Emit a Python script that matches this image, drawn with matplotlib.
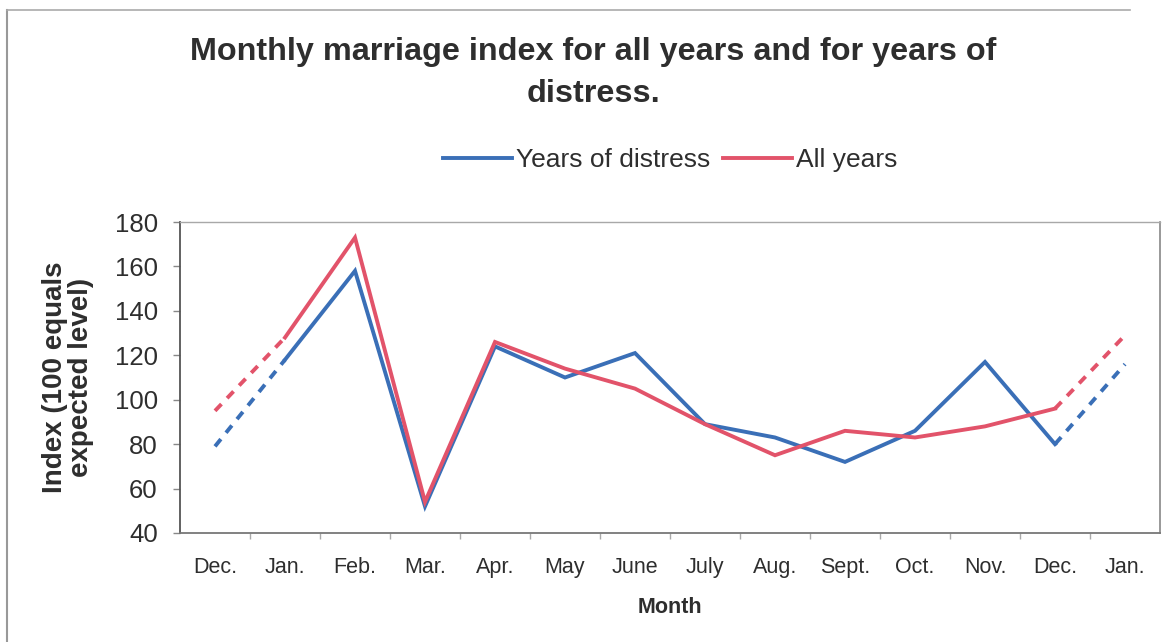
import matplotlib
matplotlib.use("Agg")
import matplotlib.pyplot as plt
from matplotlib.lines import Line2D
from matplotlib.ticker import FixedLocator, MultipleLocator

# Monthly marriage index (100 = expected level); first and last points wrap around the year
months = ["Dec.", "Jan.", "Feb.", "Mar.", "Apr.", "May", "June", "July",
          "Aug.", "Sept.", "Oct.", "Nov.", "Dec.", "Jan."]
distress = [79, 118, 158, 52, 124, 110, 121, 89, 83, 72, 86, 117, 80, 116]
all_years = [95, 128, 173, 54, 126, 114, 105, 89, 75, 86, 83, 88, 96, 129]

BLUE = "#3a6fb7"
RED = "#e2536a"
TEXT = "#2e2e2e"

plt.rcParams["font.family"] = ["Liberation Sans", "DejaVu Sans"]

fig = plt.figure(figsize=(11.64, 6.42), dpi=100)
ax = fig.add_axes([180 / 1164, 1 - 533 / 642, 980 / 1164, 311 / 642])

x = list(range(len(months)))
lw = 2.8
dash = (2.4, 2.1)

for vals, col, name in [(distress, BLUE, "Years of distress"),
                        (all_years, RED, "All years")]:
    # solid run across the calendar year
    ax.plot(x[1:-1], vals[1:-1], color=col, lw=lw, label=name,
            solid_joinstyle="miter")
    # dashed wrap-around segments
    ax.plot(x[:2], vals[:2], color=col, lw=lw, dashes=dash,
            dash_capstyle="butt")
    ax.plot(x[-2:], vals[-2:], color=col, lw=lw, dashes=dash,
            dash_capstyle="butt")

ax.set_xlim(-0.5, len(months) - 0.5)
ax.set_ylim(40, 180)
ax.yaxis.set_major_locator(MultipleLocator(20))
ax.set_xticks(x)
ax.set_xticklabels(months)
ax.xaxis.set_minor_locator(FixedLocator([i + 0.5 for i in range(len(months) - 1)]))

ax.tick_params(axis="x", which="major", length=0, pad=17, labelsize=15.5,
               labelcolor=TEXT)
ax.tick_params(axis="x", which="minor", length=4, color="#aaaaaa", width=1)
ax.tick_params(axis="y", length=5, color="#888888", width=1, pad=11,
               labelsize=18.5, labelcolor=TEXT)

ax.spines["left"].set_color("#555555")
ax.spines["left"].set_linewidth(1.3)
ax.spines["bottom"].set_color("#777777")
ax.spines["bottom"].set_linewidth(1.3)
ax.spines["top"].set_color("#a8a8a8")
ax.spines["top"].set_linewidth(1.0)
ax.spines["right"].set_color("#888888")
ax.spines["right"].set_linewidth(1.2)

ax.set_xlabel("Month", fontsize=15.5, fontweight="bold", color=TEXT, labelpad=14)
ax.set_ylabel("Index (100 equals\nexpected level)", fontsize=20,
              fontweight="bold", color=TEXT, labelpad=15, linespacing=1.0)

fig.text(593 / 1164, 1 - 52 / 642,
         "Monthly marriage index for all years and for years of",
         ha="center", va="center", fontsize=23.3, fontweight="bold", color=TEXT)
fig.text(593 / 1164, 1 - 94 / 642, "distress.",
         ha="center", va="center", fontsize=23.3, fontweight="bold", color=TEXT)

leg = fig.legend(loc="center", bbox_to_anchor=(670 / 1164, 1 - 160 / 642),
                 ncol=2, frameon=False, fontsize=19, handlelength=2.6,
                 handletextpad=0.15, columnspacing=0.5, labelcolor=TEXT)

# thin frame around the chart
fig.add_artist(Line2D([7 / 1164, 7 / 1164], [0, 1 - 10 / 642],
                      transform=fig.transFigure, color="#999999", lw=1.5))
fig.add_artist(Line2D([7 / 1164, 1130 / 1164], [1 - 10 / 642, 1 - 10 / 642],
                      transform=fig.transFigure, color="#aaaaaa", lw=1.2))

fig.savefig("out.png", dpi=100)
